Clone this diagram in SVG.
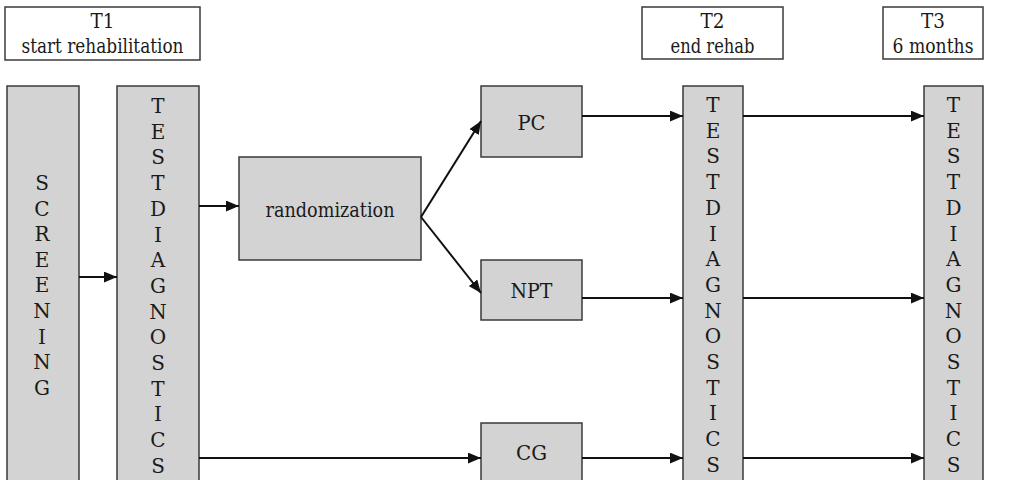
<svg xmlns="http://www.w3.org/2000/svg" width="1028" height="480" viewBox="0 0 1028 480">
<style>
  .lbl { fill: #ffffff; stroke: #3a3a3a; stroke-width: 1.5; }
  .box { fill: #d3d3d3; stroke: #3a3a3a; stroke-width: 1.5; }
  text { font-family: "DejaVu Serif", serif; font-size: 20px; fill: #1a1a1a; text-anchor: middle; }
  .conn { stroke: #111111; stroke-width: 2; fill: none; marker-end: url(#arr); }
</style>
<defs>
  <marker id="arr" viewBox="0 0 12 10" refX="12" refY="5" markerWidth="13" markerHeight="11" markerUnits="userSpaceOnUse" orient="auto">
    <path d="M0,0 L12,5 L0,10 z" fill="#111111"/>
  </marker>
</defs>
<rect width="1028" height="480" fill="#ffffff"/>

<g id="t1">
  <rect class="lbl" x="5" y="7" width="195" height="53"/>
  <text x="102.5" y="28" textLength="24" lengthAdjust="spacingAndGlyphs">T1</text>
  <text x="102.5" y="53" textLength="162" lengthAdjust="spacingAndGlyphs">start rehabilitation</text>
</g>
<g id="t2">
  <rect class="lbl" x="642" y="7" width="141" height="52"/>
  <text x="712.5" y="28" textLength="24" lengthAdjust="spacingAndGlyphs">T2</text>
  <text x="712.5" y="53" textLength="84" lengthAdjust="spacingAndGlyphs">end rehab</text>
</g>
<g id="t3">
  <rect class="lbl" x="883" y="7" width="100" height="52"/>
  <text x="933" y="28" textLength="24" lengthAdjust="spacingAndGlyphs">T3</text>
  <text x="933" y="53" textLength="81" lengthAdjust="spacingAndGlyphs">6 months</text>
</g>

<g id="screening">
  <rect class="box" x="7" y="86" width="72" height="404"/>
  <text x="42" y="190">S</text>
  <text x="42" y="215.6">C</text>
  <text x="42" y="241.2">R</text>
  <text x="42" y="266.8">E</text>
  <text x="42" y="292.4">E</text>
  <text x="42" y="318">N</text>
  <text x="42" y="343.6">I</text>
  <text x="42" y="369.2">N</text>
  <text x="42" y="394.8">G</text>
</g>

<g id="test1">
  <rect class="box" x="117" y="86" width="82" height="404"/>
  <text x="158" y="113">T</text>
  <text x="158" y="138.7">E</text>
  <text x="158" y="164.4">S</text>
  <text x="158" y="190.1">T</text>
  <text x="158" y="215.8">D</text>
  <text x="158" y="241.5">I</text>
  <text x="158" y="267.2">A</text>
  <text x="158" y="292.9">G</text>
  <text x="158" y="318.6">N</text>
  <text x="158" y="344.3">O</text>
  <text x="158" y="370">S</text>
  <text x="158" y="395.7">T</text>
  <text x="158" y="421.4">I</text>
  <text x="158" y="447.1">C</text>
  <text x="158" y="472.8">S</text>
</g>

<g id="randomization">
  <rect class="box" x="239" y="157" width="182" height="103"/>
  <text x="330" y="217" textLength="129" lengthAdjust="spacingAndGlyphs">randomization</text>
</g>

<g id="pc">
  <rect class="box" x="481" y="86" width="101" height="71"/>
  <text x="531.5" y="130" textLength="28" lengthAdjust="spacingAndGlyphs">PC</text>
</g>
<g id="npt">
  <rect class="box" x="481" y="260" width="101" height="60"/>
  <text x="531.5" y="298" textLength="42" lengthAdjust="spacingAndGlyphs">NPT</text>
</g>
<g id="cg">
  <rect class="box" x="481" y="423" width="101" height="67"/>
  <text x="531.5" y="460" textLength="31" lengthAdjust="spacingAndGlyphs">CG</text>
</g>

<g id="test2">
  <rect class="box" x="683" y="86" width="60" height="404"/>
  <text x="713" y="112">T</text>
  <text x="713" y="137.7">E</text>
  <text x="713" y="163.4">S</text>
  <text x="713" y="189.1">T</text>
  <text x="713" y="214.8">D</text>
  <text x="713" y="240.5">I</text>
  <text x="713" y="266.2">A</text>
  <text x="713" y="291.9">G</text>
  <text x="713" y="317.6">N</text>
  <text x="713" y="343.3">O</text>
  <text x="713" y="369">S</text>
  <text x="713" y="394.7">T</text>
  <text x="713" y="420.4">I</text>
  <text x="713" y="446.1">C</text>
  <text x="713" y="471.8">S</text>
</g>

<g id="test3">
  <rect class="box" x="924" y="86" width="59" height="404"/>
  <text x="953.5" y="112">T</text>
  <text x="953.5" y="137.7">E</text>
  <text x="953.5" y="163.4">S</text>
  <text x="953.5" y="189.1">T</text>
  <text x="953.5" y="214.8">D</text>
  <text x="953.5" y="240.5">I</text>
  <text x="953.5" y="266.2">A</text>
  <text x="953.5" y="291.9">G</text>
  <text x="953.5" y="317.6">N</text>
  <text x="953.5" y="343.3">O</text>
  <text x="953.5" y="369">S</text>
  <text x="953.5" y="394.7">T</text>
  <text x="953.5" y="420.4">I</text>
  <text x="953.5" y="446.1">C</text>
  <text x="953.5" y="471.8">S</text>
</g>

<g id="connectors">
  <line class="conn" x1="79" y1="277" x2="117" y2="277"/>
  <line class="conn" x1="199" y1="206" x2="239" y2="206"/>
  <line class="conn" x1="199" y1="458" x2="481" y2="458"/>
  <line class="conn" x1="421" y1="217" x2="481" y2="121"/>
  <line class="conn" x1="421" y1="217" x2="481" y2="293"/>
  <line class="conn" x1="582" y1="116" x2="683" y2="116"/>
  <line class="conn" x1="582" y1="298" x2="683" y2="298"/>
  <line class="conn" x1="582" y1="458" x2="683" y2="458"/>
  <line class="conn" x1="743" y1="116" x2="924" y2="116"/>
  <line class="conn" x1="743" y1="298" x2="924" y2="298"/>
  <line class="conn" x1="743" y1="458" x2="924" y2="458"/>
</g>
</svg>
